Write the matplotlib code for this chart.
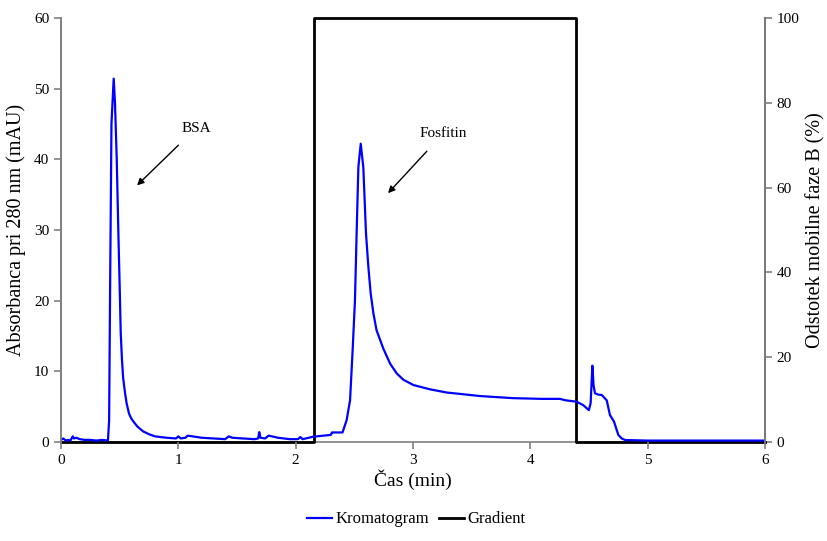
import matplotlib.pyplot as plt

plt.rcParams['font.family'] = ['Liberation Serif', 'DejaVu Serif']

# chromatogram (time in min, absorbance in mAU)
time = [0.00, 0.02, 0.04, 0.06, 0.08, 0.10, 0.11, 0.13, 0.16, 0.20,
        0.25, 0.30, 0.35, 0.40, 0.41, 0.42, 0.43, 0.449, 0.46, 0.475,
        0.489, 0.50, 0.509, 0.52, 0.53, 0.546, 0.56, 0.58, 0.60, 0.617,
        0.65, 0.70, 0.75, 0.80, 0.90, 0.98, 1.00, 1.02, 1.06, 1.08,
        1.12, 1.20, 1.30, 1.40, 1.43, 1.46, 1.55, 1.65, 1.68, 1.69,
        1.70, 1.74, 1.77, 1.85, 1.95, 2.02, 2.04, 2.06, 2.15, 2.30,
        2.31, 2.32, 2.40, 2.435, 2.464, 2.486, 2.506, 2.52, 2.535, 2.555,
        2.577, 2.60, 2.62, 2.64, 2.663, 2.69, 2.748, 2.805, 2.862, 2.919,
        3.004, 3.146, 3.288, 3.572, 3.856, 4.10, 4.254, 4.30, 4.396, 4.453,
        4.50, 4.515, 4.53, 4.54, 4.552, 4.58, 4.61, 4.652, 4.68, 4.714,
        4.751, 4.78, 4.81, 5.0, 5.5, 6.0]
absorb = [0.3, 0.5, 0.2, 0.3, 0.2, 0.8, 0.5, 0.6, 0.4, 0.3,
          0.3, 0.2, 0.3, 0.2, 3.0, 25, 45, 51.4, 48, 40,
          29.5, 22, 15.4, 11.5, 9.0, 6.9, 5.4, 4.0, 3.3, 2.9,
          2.2, 1.5, 1.1, 0.8, 0.6, 0.5, 0.8, 0.5, 0.6, 0.9,
          0.8, 0.6, 0.5, 0.4, 0.8, 0.6, 0.5, 0.4, 0.5, 1.4,
          0.6, 0.5, 0.9, 0.6, 0.4, 0.4, 0.7, 0.4, 0.75, 1.0,
          1.35, 1.35, 1.35, 3.1, 5.9, 13.0, 20.1, 29.5, 38.9, 42.2,
          38.9, 29.5, 24.8, 21.0, 18.2, 15.8, 13.2, 11.1, 9.7, 8.8,
          8.06, 7.45, 7.0, 6.5, 6.2, 6.1, 6.1, 5.9, 5.7, 5.2,
          4.5, 5.5, 10.8, 8.0, 6.9, 6.7, 6.65, 5.9, 3.8, 2.9,
          1.0, 0.5, 0.28, 0.2, 0.2, 0.2]

# gradient (% mobile phase B)
grad_time = [0, 2.157, 2.157, 4.39, 4.39, 6]
grad_b = [0, 0, 100, 100, 0, 0]

fig = plt.figure(figsize=(8.28, 5.41), dpi=100)
ax = fig.add_axes([0.0737, 0.183, 0.850, 0.784])
ax2 = ax.twinx()
ax.set_zorder(ax2.get_zorder() + 1)
ax.patch.set_visible(False)

l2, = ax2.plot(grad_time, grad_b, color='black', lw=2, label='Gradient',
               zorder=3, clip_on=False)
l1, = ax.plot(time, absorb, color='#0000ff', lw=1.6, label='Kromatogram')

ax.set_xlim(0, 6)
ax.set_ylim(0, 60)
ax2.set_ylim(0, 100)
ax.set_xticks(range(7))
ax.set_yticks(range(0, 61, 10))
ax2.set_yticks(range(0, 101, 20))

for a in (ax, ax2):
    for s in a.spines.values():
        s.set_color('#808080')
        s.set_linewidth(1.2)
    a.spines['top'].set_visible(False)
    a.tick_params(colors='#808080', labelcolor='black', labelsize=11,
                  length=5, width=1.2)
ax.spines['bottom'].set_visible(False)
ax2.spines['right'].set_color('#404040')

ax.set_xlabel('Čas (min)', fontsize=14, labelpad=2)
ax.set_ylabel('Absorbanca pri 280 nm (mAU)', fontsize=14.5, labelpad=6)
ax2.set_ylabel('Odstotek mobilne faze B (%)', fontsize=14.5, labelpad=5)

ax.annotate('BSA', xy=(0.648, 36.3), xytext=(1.15, 44.4), fontsize=11,
            ha='center', va='center',
            arrowprops=dict(arrowstyle='-|>', color='black', lw=1,
                            shrinkA=8, shrinkB=0, mutation_scale=10))
ax.annotate('Fosfitin', xy=(2.788, 35.2), xytext=(3.256, 43.6), fontsize=11,
            ha='center', va='center',
            arrowprops=dict(arrowstyle='-|>', color='black', lw=1,
                            shrinkA=8, shrinkB=0, mutation_scale=10))

fig.legend([l1, l2], ['Kromatogram', 'Gradient'], loc='center',
           bbox_to_anchor=(0.503, 0.04), ncol=2, frameon=False, fontsize=12,
           handlelength=1.5, handletextpad=0.2, columnspacing=0.6)

fig.savefig('out.png', dpi=100)
